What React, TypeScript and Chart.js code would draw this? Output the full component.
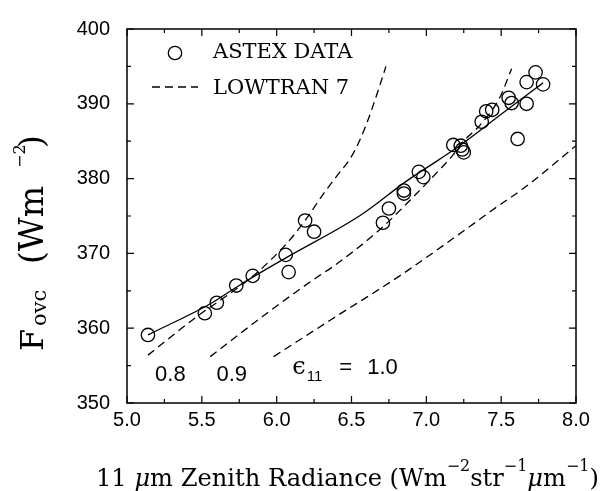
import React, { useEffect, useRef } from "react";
import { Chart, registerables } from "chart.js";

Chart.register(...registerables);

// ---- data ----
const astexX = [5.14, 5.52, 5.60, 5.73, 5.84, 6.06, 6.08, 6.19, 6.25, 6.71, 6.75, 6.85, 6.85, 6.95, 6.98, 7.18, 7.23, 7.24, 7.25, 7.37, 7.40, 7.44, 7.55, 7.57, 7.61, 7.67, 7.67, 7.73, 7.78];
const astexY = [359.1, 362.0, 363.4, 365.7, 367.0, 369.8, 367.5, 374.4, 372.9, 374.1, 376.0, 378.4, 378.0, 380.9, 380.2, 384.5, 384.4, 383.9, 383.5, 387.6, 389.0, 389.2, 390.8, 390.1, 385.3, 390.0, 392.9, 394.2, 392.6];

const fitX = [5.14, 5.56, 5.76, 6.07, 6.56, 6.87, 7.09, 7.25, 7.50, 7.78];
const fitY = [359.1, 363.3, 365.85, 369.5, 375.1, 379.7, 382.6, 384.8, 388.6, 392.8];

const eps08X = [5.14, 5.47, 5.65, 5.85, 6.07, 6.19, 6.31, 6.40, 6.51, 6.60, 6.69, 6.73];
const eps08Y = [356.4, 361.6, 364.1, 367.1, 371.4, 374.4, 377.9, 380.3, 383.3, 387.3, 392.5, 395.0];

const eps09X = [5.556, 5.935, 6.29, 6.36, 6.69, 6.94, 7.07, 7.18, 7.23, 7.37, 7.49, 7.57];
const eps09Y = [356.2, 362.0, 367.1, 368.0, 373.2, 378.1, 380.8, 383.2, 384.6, 387.4, 390.8, 394.7];

const eps10X = [5.98, 6.36, 6.83, 7.29, 7.47, 7.67, 8.0];
const eps10Y = [356.2, 361.1, 367.1, 373.6, 376.2, 379.0, 384.4];

const xTicks = [5.0, 5.5, 6.0, 6.5, 7.0, 7.5, 8.0];
const yTicks = [350, 360, 370, 380, 390, 400];

const legendLabels = ["ASTEX DATA", "LOWTRAN 7"];
const curveLabels = ["0.8", "0.9", "1.0"];
const curveLabelX = [5.29, 5.70, 6.104];

const pts = (xs: number[], ys: number[]) => xs.map((x, i) => ({ x, y: ys[i] }));

const SANS = "'Liberation Sans', Arial, sans-serif";
const SERIF = "'DejaVu Serif', serif";
const DASH = [8, 5];

type Piece = { t: string; s: number; dy: number; italic?: boolean };

function drawRich(ctx: CanvasRenderingContext2D, pieces: Piece[], x: number, y: number, size: number, fam: string) {
  let cx = x;
  for (const p of pieces) {
    ctx.font = `${p.italic ? "italic " : ""}${p.s * size}px ${fam}`;
    ctx.fillText(p.t, cx, y + p.dy * size);
    cx += ctx.measureText(p.t).width;
  }
}
function richWidth(ctx: CanvasRenderingContext2D, pieces: Piece[], size: number, fam: string) {
  let w = 0;
  for (const p of pieces) {
    ctx.font = `${p.italic ? "italic " : ""}${p.s * size}px ${fam}`;
    w += ctx.measureText(p.t).width;
  }
  return w;
}

const overlay = {
  id: "overlay",
  afterDraw(chart: any) {
    const { ctx, chartArea: a } = chart;
    const xs = chart.scales.x;
    const ys = chart.scales.y;
    ctx.save();
    ctx.strokeStyle = "#000";
    ctx.fillStyle = "#000";
    ctx.setLineDash([]);
    ctx.lineWidth = 1.5;
    ctx.strokeRect(a.left, a.top, a.right - a.left, a.bottom - a.top);

    // inward ticks
    ctx.lineWidth = 1.2;
    const minorX = xTicks.slice(1).map((v, i) => (v + xTicks[i]) / 2);
    const minorY = yTicks.slice(1).map((v, i) => (v + yTicks[i]) / 2);
    ctx.beginPath();
    const xt = (vals: number[], len: number) => {
      for (const v of vals) {
        const px = xs.getPixelForValue(v);
        ctx.moveTo(px, a.bottom); ctx.lineTo(px, a.bottom - len);
        ctx.moveTo(px, a.top); ctx.lineTo(px, a.top + len);
      }
    };
    const yt = (vals: number[], len: number) => {
      for (const v of vals) {
        const py = ys.getPixelForValue(v);
        ctx.moveTo(a.left, py); ctx.lineTo(a.left + len, py);
        ctx.moveTo(a.right, py); ctx.lineTo(a.right - len, py);
      }
    };
    xt(xTicks, 7); xt(minorX, 4); yt(yTicks, 7); yt(minorY, 4);
    ctx.stroke();

    // legend
    ctx.lineWidth = 1.3;
    ctx.beginPath();
    ctx.arc(175, 53, 6.7, 0, Math.PI * 2);
    ctx.stroke();
    ctx.setLineDash(DASH);
    ctx.beginPath();
    ctx.moveTo(152, 87); ctx.lineTo(198, 87);
    ctx.stroke();
    ctx.setLineDash([]);
    ctx.textAlign = "left";
    ctx.textBaseline = "alphabetic";
    ctx.font = `21px ${SERIF}`;
    ctx.fillText(legendLabels[0], 213, 58);
    ctx.fillText(legendLabels[1], 213, 94);

    // curve labels
    ctx.font = `22px ${SANS}`;
    ctx.textAlign = "center";
    const by = ys.getPixelForValue(353.0);
    ctx.fillText(curveLabels[0], xs.getPixelForValue(curveLabelX[0]), by);
    ctx.fillText(curveLabels[1], xs.getPixelForValue(curveLabelX[1]), by);
    ctx.textAlign = "left";
    const ex = xs.getPixelForValue(curveLabelX[2]);
    const ey = ys.getPixelForValue(353.9);
    ctx.font = `24px ${SERIF}`;
    ctx.fillText("\u03F5", ex, ey);
    const ew = ctx.measureText("\u03F5").width;
    ctx.font = `15px ${SANS}`;
    ctx.fillText("11", ex + ew + 1, ey + 7);
    ctx.font = `22px ${SANS}`;
    ctx.fillText("=", ex + 47, ey);
    ctx.fillText(curveLabels[2], ex + 75, ey);

    // x title
    const xPieces: Piece[] = [
      { t: "11 ", s: 1, dy: 0 },
      { t: "\u03BC", s: 1, dy: 0, italic: true },
      { t: "m Zenith Radiance (Wm", s: 1, dy: 0 },
      { t: "\u22122", s: 0.66, dy: -0.62 },
      { t: "str", s: 1, dy: 0 },
      { t: "\u22121", s: 0.66, dy: -0.62 },
      { t: "\u03BC", s: 1, dy: 0, italic: true },
      { t: "m", s: 1, dy: 0 },
      { t: "\u22121", s: 0.66, dy: -0.62 },
      { t: ")", s: 1, dy: 0 },
    ];
    const w0 = richWidth(ctx, xPieces, 20, SERIF);
    const size = (20 * 503) / w0;
    drawRich(ctx, xPieces, 96, 486, size, SERIF);

    // y title (rotated)
    ctx.translate(43, 351);
    ctx.rotate(-Math.PI / 2);
    ctx.font = `32px ${SERIF}`;
    ctx.fillText("F", 0, 0);
    ctx.font = `21px ${SERIF}`;
    ctx.fillText("ovc", 25, 3);
    ctx.font = `33px ${SERIF}`;
    ctx.fillText("(Wm", 87, 0);
    ctx.font = `16px ${SERIF}`;
    ctx.fillText("\u22122", 183, -18);
    ctx.font = `33px ${SERIF}`;
    ctx.fillText(")", 203, 0);
    ctx.restore();
  },
};

export default function App() {
  const ref = useRef<HTMLCanvasElement>(null);
  useEffect(() => {
    if (!ref.current) return;
    const line = (data: any[], dashed: boolean) => ({
      data,
      showLine: true,
      borderColor: "#000",
      borderWidth: 1.3,
      borderDash: dashed ? DASH : [],
      pointRadius: 0,
      cubicInterpolationMode: "monotone",
    });
    const chart = new Chart(ref.current, {
      type: "scatter",
      data: {
        datasets: [
          { label: "fit", ...line(pts(fitX, fitY), false) } as any,
          { label: "0.8", ...line(pts(eps08X, eps08Y), true) },
          { label: "0.9", ...line(pts(eps09X, eps09Y), true) },
          { label: "1.0", ...line(pts(eps10X, eps10Y), true) },
          {
            label: legendLabels[0],
            data: pts(astexX, astexY),
            showLine: false,
            pointStyle: "circle",
            pointRadius: 6.7,
            borderWidth: 1.3,
            borderColor: "#000",
            backgroundColor: "rgba(0,0,0,0)",
          },
        ],
      },
      options: {
        animation: false,
        responsive: false,
        devicePixelRatio: 1,
        layout: { padding: { left: 0, top: 15, right: 25, bottom: 0 } },
        plugins: { legend: { display: false }, tooltip: { enabled: false } },
        scales: {
          x: {
            type: "linear",
            min: 5,
            max: 8,
            afterBuildTicks: (s: any) => {
              s.ticks = xTicks.map((v) => ({ value: v }));
            },
            afterFit: (s: any) => {
              s.height = 88;
            },
            ticks: {
              autoSkip: false,
              maxRotation: 0,
              padding: 5,
              color: "#000",
              font: { family: SANS, size: 20 },
              callback: (v: any) => Number(v).toFixed(1),
            },
            grid: { display: false, drawTicks: false },
            border: { display: false },
          },
          y: {
            type: "linear",
            min: 350,
            max: 400,
            afterBuildTicks: (s: any) => {
              s.ticks = yTicks.map((v) => ({ value: v }));
            },
            afterFit: (s: any) => {
              s.width = 127;
            },
            ticks: {
              autoSkip: false,
              padding: 17,
              color: "#000",
              font: { family: SANS, size: 20 },
              callback: (v: any) => String(v),
            },
            grid: { display: false, drawTicks: false },
            border: { display: false },
          },
        },
      },
      plugins: [overlay],
    } as any);
    return () => chart.destroy();
  }, []);
  return (
    <div style={{ position: "absolute", left: 0, top: 0, width: 601, height: 491, background: "#fff" }}>
      <canvas ref={ref} width={601} height={491} style={{ display: "block" }} />
    </div>
  );
}
